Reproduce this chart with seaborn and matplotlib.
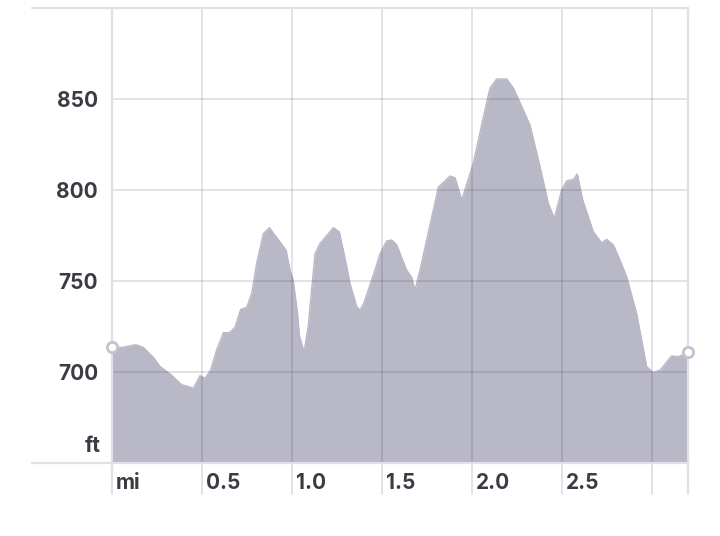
import matplotlib
matplotlib.use('Agg')
import matplotlib.pyplot as plt
import matplotlib.transforms as mtransforms
import pandas as pd
import seaborn as sns

# elevation profile
dist_mi = [0.000, 0.054, 0.133, 0.174, 0.230, 0.267, 0.322, 0.387, 0.424, 0.452,
           0.489, 0.517, 0.548, 0.581, 0.619, 0.652, 0.683, 0.715, 0.748, 0.776,
           0.806, 0.841, 0.874, 0.917, 0.967, 0.989, 1.007, 1.031, 1.041, 1.067,
           1.090, 1.109, 1.128, 1.156, 1.230, 1.263, 1.304, 1.322, 1.359, 1.378,
           1.400, 1.430, 1.461, 1.489, 1.526, 1.554, 1.582, 1.609, 1.637, 1.665,
           1.683, 1.711, 1.748, 1.813, 1.878, 1.906, 1.943, 1.989, 2.007, 2.063,
           2.100, 2.137, 2.193, 2.230, 2.285, 2.322, 2.378, 2.424, 2.457, 2.498,
           2.526, 2.563, 2.585, 2.615, 2.674, 2.720, 2.748, 2.785, 2.822, 2.859,
           2.915, 2.970, 3.007, 3.044, 3.109, 3.146, 3.200]
elev_ft = [713.5, 713.5, 715.0, 713.5, 708.0, 703.0, 699.0, 693.0, 692.0, 691.0,
           698.0, 696.5, 701.0, 712.0, 721.6, 721.6, 724.5, 734.4, 735.5, 743.0,
           761.0, 776.0, 779.3, 773.6, 767.0, 756.0, 750.5, 732.0, 720.0, 711.0,
           725.0, 745.0, 765.0, 770.7, 779.3, 777.0, 758.0, 748.7, 736.0, 734.0,
           738.0, 747.0, 756.0, 765.0, 772.0, 772.5, 769.8, 763.0, 756.0, 752.0,
           745.0, 756.0, 772.5, 801.5, 807.7, 806.7, 794.5, 809.0, 814.6, 840.0,
           856.0, 861.0, 861.0, 856.0, 844.0, 835.7, 812.8, 792.7, 784.5, 800.0,
           805.0, 805.8, 808.8, 794.5, 777.0, 771.0, 772.9, 769.8, 761.5, 752.4,
           732.0, 703.0, 699.6, 701.0, 708.8, 708.4, 710.8]

y_ticks = [700, 750, 800, 850]
y_labels = ['700', '750', '800', '850']
x_ticks = [0, 0.5, 1.0, 1.5, 2.0, 2.5]
x_labels = ['mi', '0.5', '1.0', '1.5', '2.0', '2.5']
x_grid = [0.5, 1.0, 1.5, 2.0, 2.5, 3.0]

df = pd.DataFrame({'mi': dist_mi, 'ft': elev_ft})
ends = df.iloc[[0, -1]]

sns.set_theme(style='white')
plt.rcParams['font.family'] = ['Inter', 'DejaVu Sans']

fill_c = '#b8b8c6'
light = '#e1e0e8'
text_c = '#3c3b44'

fig = plt.figure(figsize=(7.2, 5.36), dpi=100)
ax = fig.add_axes([112/720, 73/536, 576/720, 455/536])

ax.fill_between(df['mi'], df['ft'], 650, color=fill_c, lw=0, zorder=2)
sns.lineplot(data=df, x='mi', y='ft', color=fill_c, lw=1, ax=ax, zorder=2)

# inner grid, drawn over the fill with a faint dark tone
for y in y_ticks:
    ax.axhline(y, color='#282646', alpha=0.14, lw=1.3, zorder=3)
for x in x_grid:
    ax.axvline(x, ymin=-31/455, ymax=1, color='#282646', alpha=0.14, lw=1.3,
               zorder=3, clip_on=False)

# outer frame lines
ax.axhline(650, xmin=-80/576, xmax=1, color=light, lw=1.6, zorder=4, clip_on=False)
ax.axhline(900, xmin=-80/576, xmax=1, color=light, lw=1.6, zorder=4, clip_on=False)
for x in [0, 3.2]:
    ax.axvline(x, ymin=-31/455, ymax=1, color=light, lw=1.6, zorder=4, clip_on=False)

sns.scatterplot(data=ends, x='mi', y='ft', s=55, facecolor='white',
                edgecolor='#c3c2ce', linewidth=2, zorder=5, clip_on=False, ax=ax)

ax.set_xlim(0, 3.2)
ax.set_ylim(650, 900)
sns.despine(ax=ax, left=True, bottom=True)
ax.set_xlabel('')
ax.set_ylabel('')

ax.set_yticks(y_ticks, labels=y_labels)
ax.tick_params(axis='y', length=0, pad=10, labelsize=15, labelcolor=text_c)
ax.set_xticks(x_ticks, labels=x_labels)
ax.tick_params(axis='x', length=0, pad=7, labelsize=15, labelcolor=text_c)
shift = mtransforms.ScaledTranslation(4/100, 0, fig.dpi_scale_trans)
for lbl in ax.get_xticklabels():
    lbl.set_ha('left')
    lbl.set_fontweight('bold')
    lbl.set_transform(lbl.get_transform() + shift)
for lbl in ax.get_yticklabels():
    lbl.set_fontweight('bold')

ax.annotate('ft', xy=(0, 650), xycoords=('axes fraction', 'data'),
            xytext=(-8, 8), textcoords='offset points', ha='right', va='baseline',
            fontsize=15, fontweight='bold', color=text_c)

fig.savefig('out.png', dpi=100)
